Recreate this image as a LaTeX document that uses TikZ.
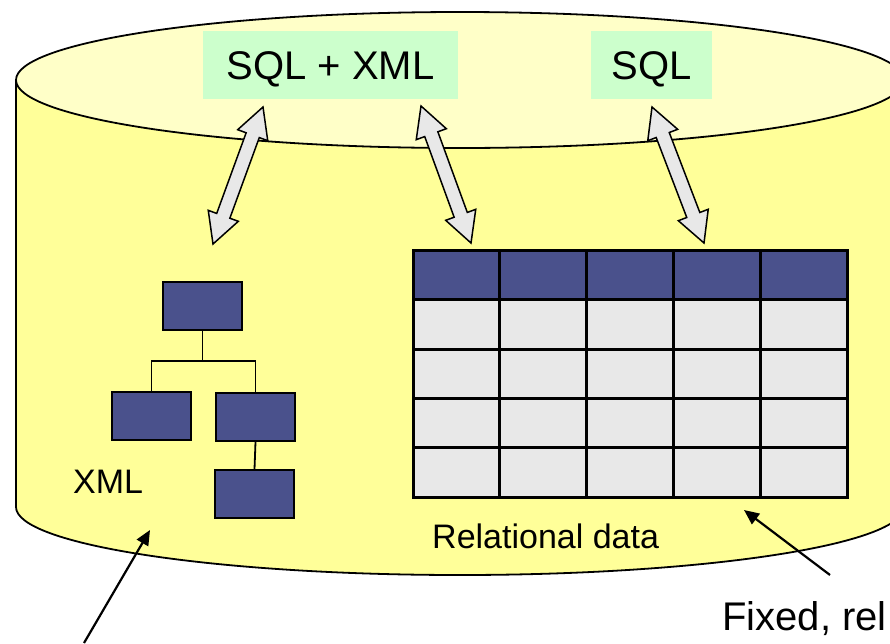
\documentclass[tikz,border=0pt]{standalone}
\usepackage{fontspec}
\setmainfont{Liberation Sans}
\usetikzlibrary{calc,arrows.meta}
\definecolor{topc}{HTML}{FFFFC8}
\definecolor{bodyc}{HTML}{FFFF99}
\definecolor{greenc}{HTML}{CCFFCC}
\definecolor{navyc}{RGB}{74,81,140}
\definecolor{cellc}{HTML}{E8E8E8}
\newcommand\arrHL{30pt}
\newcommand\arrHW{16pt}
\newcommand\arrSW{7pt}
\newcommand\dblarr[2]{%
  \draw[dblstyle] (#1)
   -- ($(#1)!\arrHL!(#2)!\arrHW!90:(#2)$)
   -- ($(#1)!\arrHL!(#2)!\arrSW!90:(#2)$)
   -- ($(#2)!\arrHL!(#1)!\arrSW!-90:(#1)$)
   -- ($(#2)!\arrHL!(#1)!\arrHW!-90:(#1)$)
   -- (#2)
   -- ($(#2)!\arrHL!(#1)!\arrHW!90:(#1)$)
   -- ($(#2)!\arrHL!(#1)!\arrSW!90:(#1)$)
   -- ($(#1)!\arrHL!(#2)!\arrSW!-90:(#2)$)
   -- ($(#1)!\arrHL!(#2)!\arrHW!-90:(#2)$)
   -- cycle;}
\begin{document}
\begin{tikzpicture}[x=1pt,y=-1pt,
  dblstyle/.style={draw=black,fill=cellc,line width=1.5pt,line join=miter},
  langbox/.style={fill=greenc,inner sep=0pt,minimum height=68pt,text height=28.6pt,text depth=0pt,font=\fontsize{40pt}{48pt}\selectfont},
  xbox/.style={draw=black,fill=navyc,line width=1.6pt,minimum width=79pt,minimum height=48pt,inner sep=0pt},
  lbl/.style={inner sep=0pt,anchor=base west,font=\fontsize{34pt}{40pt}\selectfont},
  pointer/.style={line width=2.2pt,-{Triangle[length=15pt,width=13pt]}},
  tline/.style={line width=1.8pt}]
\clip (0,0) rectangle (890,643);
% cylinder body
\fill[bodyc] (16,80) -- (16,507) arc[start angle=180,end angle=360,x radius=444pt,y radius=68pt] -- (904,80) -- cycle;
\draw[line width=1.8pt] (16,80) -- (16,507) arc[start angle=180,end angle=360,x radius=444pt,y radius=68pt] -- (904,80);
% top
\draw[fill=topc,line width=1.8pt] (460,80) ellipse[x radius=444pt,y radius=68pt];
% language boxes
\node[langbox,minimum width=255pt] (sqlxml) at (330.5,65) {SQL + XML};
\node[langbox,minimum width=121pt] (sql) at (651.5,65) {SQL};
% XML tree
\node[xbox] (root) at (202.5,306) {};
\node[xbox] (cl) at (151.5,416) {};
\node[xbox] (cr) at (255.5,417) {};
\node[xbox] (cb) at (254.5,494) {};
\draw[tline] (root.south) -- ++(0,30) -| (cl.north);
\draw[tline] (root.south) -- ++(0,30) -| (cr.north);
\draw[tline] (cr.south) -- (cb.north);
\node[lbl] (xmllbl) at (73,493) {XML};
% table
\fill[cellc] (413,299) rectangle (847,497);
\fill[navyc] (413,250) rectangle (847,299);
\node[draw=black,line width=3pt,minimum width=434pt,minimum height=247pt,inner sep=0pt] (tbl) at (630,373.5) {};
\foreach \yy in {299,349,398,447} \draw[line width=3pt] (413,\yy) -- (847,\yy);
\foreach \xx in {499.8,586.6,673.4,760.2} \draw[line width=3pt] (\xx,250) -- (\xx,497);
\node[lbl] (rellbl) at (432,548) {Relational data};
% double arrows
\coordinate (a1t) at (263,107); \coordinate (a1b) at (213,244);
\coordinate (a2t) at (421,106); \coordinate (a2b) at (471,243);
\coordinate (a3t) at (652,107); \coordinate (a3b) at (704,243);
\dblarr{a1t}{a1b}
\dblarr{a2t}{a2b}
\dblarr{a3t}{a3b}
% pointers
\coordinate (p1s) at (84,643); \coordinate (p1e) at (150,530);
\coordinate (p2s) at (830,575); \coordinate (p2e) at (744,510);
\draw[pointer] (p1s) -- (p1e);
\draw[pointer] (p2s) -- (p2e);
\node[inner sep=0pt,anchor=base west,font=\fontsize{40pt}{48pt}\selectfont] (fixed) at (722,630) {Fixed, rel};
\end{tikzpicture}
\end{document}
